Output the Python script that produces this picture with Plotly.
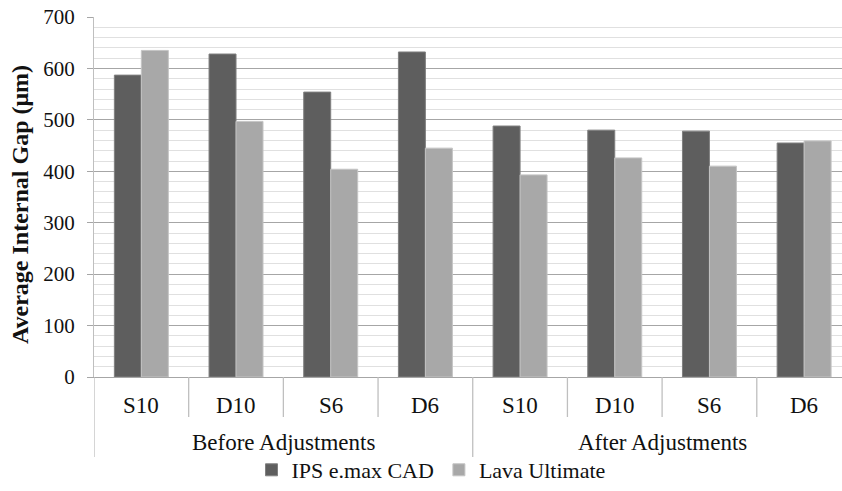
import plotly.graph_objects as go

groups = ["Before Adjustments", "After Adjustments"]
subcats = ["S10", "D10", "S6", "D6", "S10", "D10", "S6", "D6"]
ips_emax = [587, 628, 554, 632, 488, 480, 478, 455]
lava_ultimate = [635, 497, 404, 445, 393, 426, 410, 459]
series_names = ["IPS e.max CAD", "Lava Ultimate"]
y_ticks = [0, 100, 200, 300, 400, 500, 600, 700]

FONT = "Liberation Serif, Times New Roman, serif"
xs = list(range(len(subcats)))

W, H = 842, 491
L, T, B = 94, 17, 114
plot_h = H - T - B

fig = go.Figure()
fig.add_trace(go.Bar(x=xs, y=ips_emax, name=series_names[0],
                     marker=dict(color="#5e5e5e", line=dict(color="#808080", width=1))))
fig.add_trace(go.Bar(x=xs, y=lava_ultimate, name=series_names[1],
                     marker=dict(color="#a8a8a8", line=dict(color="#c4c4c4", width=1))))

annotations = []
for i, s in enumerate(subcats):
    annotations.append(dict(x=i, y=0, xref="x", yref="y", text=s, showarrow=False,
                            yanchor="middle", yshift=-28, font=dict(size=23, color="#111")))
n_per = len(subcats) // len(groups)
for g, name in enumerate(groups):
    annotations.append(dict(x=g * n_per + (n_per - 1) / 2, y=0, xref="x", yref="y", text=name,
                            showarrow=False, yanchor="middle", yshift=-65,
                            font=dict(size=23, color="#111")))
annotations.append(dict(xref="paper", yref="paper", x=-(L - 20) / (W - L), y=(H - B - 205) / plot_h,
                        xanchor="center", yanchor="middle",
                        text="<b>Average Internal Gap (μm)</b>", showarrow=False, textangle=-90,
                        font=dict(size=24, color="#111")))

shapes = []
for k in range(len(subcats) + 1):
    xb = k - 0.5
    y1 = -80 / plot_h if k % n_per == 0 else -40 / plot_h
    shapes.append(dict(type="line", xref="x", yref="paper", x0=xb, x1=xb, y0=0, y1=y1,
                       line=dict(color="#bfbfbf", width=1.3)))

fig.update_layout(
    width=W, height=H,
    margin=dict(l=L, r=0, t=T, b=B, autoexpand=False),
    paper_bgcolor="white", plot_bgcolor="white",
    font=dict(family=FONT, size=20, color="#111"),
    barmode="group", bargap=0.43, bargroupgap=0,
    showlegend=True,
    legend=dict(orientation="h", xref="container", yref="container",
                x=431 / W, xanchor="center", y=-0.012, yanchor="bottom",
                font=dict(family=FONT, size=22, color="#111"), itemwidth=30,
                bgcolor="rgba(0,0,0,0)"),
    annotations=annotations,
    shapes=shapes,
)
fig.update_xaxes(range=[-0.5, 7.4], showticklabels=False, showgrid=False, zeroline=False,
                 showline=True, linecolor="#a6a6a6", linewidth=1.3, ticks="", fixedrange=True)
fig.update_yaxes(range=[0, 700], tickvals=y_ticks, showgrid=True, gridcolor="#a6a6a6", gridwidth=1.3,
                 minor=dict(dtick=20, showgrid=True, gridcolor="#e0e0e0", gridwidth=1.3),
                 zeroline=False, showline=True, linecolor="#bfbfbf", linewidth=1.3,
                 ticks="outside", ticklen=6, tickcolor="#a6a6a6", tickwidth=1.3,
                 tickfont=dict(size=21, color="#111"), ticklabelstandoff=8)

fig.write_html("out.html", config={"displayModeBar": False},
               post_script="document.body.style.margin='0';document.body.style.overflow='hidden';")
